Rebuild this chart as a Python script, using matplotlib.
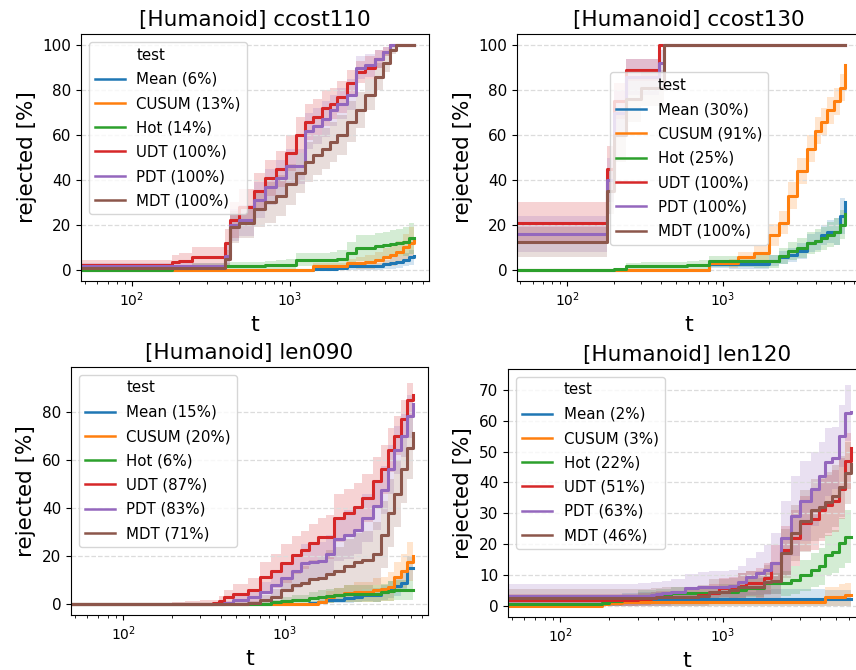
import numpy as np
import matplotlib.pyplot as plt
from matplotlib.lines import Line2D

# ------------------------------------
# Data
# ------------------------------------
t = [48, 180, 200, 240, 300, 360, 390, 420, 480, 590, 700, 820, 950, 1100, 1250,
     1400, 1600, 1800, 2000, 2300, 2650, 3000, 3500, 3900, 4300, 4700, 5200, 5700, 6150]

tests = ["Mean", "CUSUM", "Hot", "UDT", "PDT", "MDT"]
colors = ["tab:blue", "tab:orange", "tab:green", "tab:red", "tab:purple", "tab:brown"]

# final rejection rates shown in the legends
ccost110_pct = [6, 13, 14, 100, 100, 100]
ccost130_pct = [30, 91, 25, 100, 100, 100]
len090_pct = [15, 20, 6, 87, 83, 71]
len120_pct = [2, 3, 22, 51, 63, 46]

# rejected [%] per test (rows in the order of `tests`)
ccost110_rej = [
    [0]*15 + [0.5, 0.5, 0.5, 1, 1.5, 1.5, 1.5, 1.5, 2.5, 3, 3.5, 4.5, 5.5, 6],
    [0]*15 + [1.5, 1.5, 1.5, 1.5, 3, 3, 3.5, 4.5, 5.5, 6.5, 8, 10, 12, 13],
    [0, 1, 1, 1.5, 1.5, 1.5, 1.5, 1.5, 1.5, 1.5, 2, 2, 2.2, 4.5, 4.5, 4.5, 4.5, 4.5, 5,
     7.4, 9.7, 9.7, 10.5, 11, 11.5, 12, 12.5, 14, 14],
    [2, 3.5, 4, 5.5, 5.5, 5.5, 12, 22, 28, 35, 41, 45, 52, 60, 66, 68, 72, 74, 77, 83,
     88, 90, 94, 97, 100, 100, 100, 100, 100],
    [1.5, 1.5, 1.5, 1.5, 1.5, 1.5, 6, 20, 22, 31, 37, 41, 46, 46, 62, 64, 67, 71, 74, 78,
     90, 91, 94, 97, 100, 100, 100, 100, 100],
    [1, 1, 1, 1, 1, 1, 5, 19, 21, 27, 30, 33, 38, 43, 48, 51, 54, 57, 60, 66, 71, 78, 86,
     92, 98, 100, 100, 100, 100],
]
# half width of the shaded band
ccost110_ci = [
    [0]*15 + [0.8, 0.8, 0.8, 1, 1.5, 1.5, 1.5, 1.5, 2, 2.5, 2.5, 3, 3.5, 4],
    [0]*15 + [1.5, 1.5, 1.5, 1.5, 2, 2.5, 3, 3.5, 4, 5, 5, 6, 7, 8],
    [0, 1, 1, 1.5, 1.5, 1.5, 1.5, 2, 2, 2, 2, 2.5, 2.5, 3, 3, 3, 3, 3.5, 4, 5, 6, 6, 6,
     6, 6, 6, 6.5, 7, 7],
    [2.5, 3, 3.5, 4.5, 4.5, 4.5, 6, 8, 8, 8, 8, 8, 8, 8, 8, 8, 8, 7, 7, 6, 5, 5, 4, 2,
     0, 0, 0, 0, 0],
    [1.5, 1.5, 1.5, 1.5, 1.5, 1.5, 5, 7, 7, 8, 8, 8, 8, 8, 8, 8, 8, 7, 7, 7, 5, 5, 4, 2,
     0, 0, 0, 0, 0],
    [1, 1, 1, 1, 1, 1, 4, 7, 7, 8, 9, 9, 9, 9, 9, 9, 9, 9, 9, 9, 8, 7, 6, 4, 2, 0, 0, 0, 0],
]

ccost130_rej = [
    [0]*11 + [2.5, 2.5, 2.5, 2.5, 2.5, 2.5, 2.5, 4, 5.5, 6.5, 8.5, 12, 13, 15.6, 17, 17, 24, 30],
    [0]*11 + [3, 3, 3, 5.5, 5.5, 7.4, 7.4, 15.6, 21, 33, 44, 54, 62, 66, 71, 75, 81, 91],
    [0, 0, 0.5, 1.5, 1.5, 1.5, 1.5, 1.5, 1.5, 2, 2.2, 3.7, 3.7, 3.7, 3.7, 3.7, 3.7, 3.7,
     3.7, 6, 8.2, 9.7, 11.9, 13, 14, 15.6, 17, 20, 25],
    [21, 45, 75, 89, 89, 89] + [100]*23,
    [16, 40, 70, 86, 86, 86, 92] + [100]*22,
    [12.4, 35, 60, 76, 81, 81, 81] + [100]*22,
]
ccost130_ci = [
    [0]*11 + [1.5, 1.5, 2, 2, 2, 2, 2, 2.5, 3, 3, 3.5, 4, 4, 4.5, 5, 6, 8, 9],
    [0]*11 + [1.5, 1.5, 2, 2.5, 2.5, 3, 3, 5, 5, 6, 6, 6, 6, 6, 6, 6, 6, 5],
    [0, 0, 0.5, 1.5, 2, 2, 2, 2, 2, 2, 2, 2.5, 2.5, 2.5, 2.5, 2.5, 3, 3, 3, 3.5, 4, 4.5,
     5, 5, 5, 5.5, 6, 6.5, 7],
    [9, 10, 8, 5, 5, 5] + [0]*23,
    [8, 10, 10, 8, 8, 8, 6] + [0]*22,
    [6.5, 10, 12, 10, 8, 8, 8] + [0]*22,
]

len090_rej = [
    [0]*15 + [0.5, 1, 2, 2, 2.5, 3, 3.9, 4, 5, 6, 7.5, 9, 15, 15],
    [0]*16 + [1, 3.2, 3.9, 4.6, 5.2, 5.2, 6, 6.5, 7.3, 11.5, 14, 17.7, 20],
    [0]*10 + [0.3, 0.8, 1.5, 1.8, 1.8, 2.5, 3, 3.5, 4, 4.5, 4.5, 4.5, 4.5, 5, 5.5, 6, 6, 6, 6],
    [0, 0, 0, 0, 0, 0.5, 1.5, 3, 4.5, 6, 11.5, 14, 17, 20.5, 22.5, 25.3, 28, 28, 36, 38,
     40.5, 44, 51, 56, 64, 70, 77, 85, 87],
    [0, 0, 0, 0, 0, 0, 0, 0.5, 2, 3.2, 5.2, 8, 11, 14, 17, 17.5, 18, 21, 27, 29, 31, 36,
     41, 47.5, 56, 64, 70, 78, 83],
    [0, 0, 0, 0, 0, 0, 0, 0, 0, 0.5, 2, 3.2, 6, 8, 9, 10.5, 11, 12.5, 14, 16, 17.5, 18.3,
     21, 29, 38, 46, 56, 65, 71],
]
len090_ci = [
    [0]*15 + [0.8, 1, 1.5, 1.5, 2, 2, 2.5, 3, 3, 3.5, 4, 4, 5, 5],
    [0]*16 + [1, 2.5, 3, 3.5, 4, 4, 5, 5, 6, 6, 7, 8, 9],
    [0]*10 + [0.5, 1, 1.5, 2, 2, 2.5, 3, 3, 3, 3.5, 3.5, 3.5, 3.5, 3.5, 4, 4, 4, 4, 4],
    [0, 0, 1, 1.5, 2, 1.5, 2, 3, 4, 5, 6, 7, 8, 8, 8, 8, 8, 9, 10, 10, 10, 10, 10, 10,
     9, 8, 8, 7, 7],
    [0, 0, 0, 0, 0, 0, 0, 1, 2, 3, 4, 5, 6, 7, 8, 8, 8, 8, 9, 10, 10, 10, 10, 10, 10, 10,
     9, 9, 8],
    [0, 0, 0, 0, 0, 0, 0, 0, 0, 1, 2, 3, 4, 6, 7, 8, 9, 10, 10, 11, 12, 12, 13, 14, 14,
     14, 14, 13, 12],
]

len120_rej = [
    [0.5, 1, 1.2, 1.5] + [2]*25,
    [0, 0.5, 1] + [1.3]*21 + [2.9, 2.9, 2.9, 3.4, 3.4],
    [0.4, 1, 1.5, 2, 3, 3, 3.5, 3.5, 4, 4, 4, 4, 4.5, 4.5, 5, 5.8, 5.8, 7.2, 7.2, 7.2,
     8.3, 9.9, 11.6, 12.7, 16.5, 17.5, 20.3, 22.4, 22.4],
    [1.8, 1.8, 1.8, 1.8, 2.2, 2.5, 2.7, 2.9, 2.9, 2.9, 3.5, 4, 5.8, 5.8, 6.5, 7.2, 7.2,
     8.8, 13.7, 18, 22, 26.7, 28, 31, 32.5, 34, 38, 47, 51],
    [3, 3, 3, 3, 3.2, 3.5, 3.8, 4, 4.5, 5.8, 6, 6.2, 6.2, 6.5, 7.7, 9.4, 10.5, 11.6, 13.7,
     22, 29, 34, 38, 42, 46.5, 48, 55, 62.5, 63],
    [2.4, 2.4, 2.4, 2.4, 2.5, 2.6, 2.8, 2.9, 2.9, 2.9, 3.2, 4.5, 4.5, 5, 6.2, 6.2, 6.2,
     7.7, 8, 17, 23.5, 27.5, 31, 32, 33.5, 35.5, 38.6, 43, 46],
]
len120_ci = [
    [1, 1.5, 2] + [2.5]*13 + [3, 3] + [3.5]*6 + [3]*5,
    [0, 0.5, 1] + [1.3]*21 + [3, 3, 4, 4, 4],
    [0.5, 1, 1.5, 1.5, 2, 2, 2, 2, 2, 2, 2, 2, 2.5, 2.5, 2.5, 3, 3, 3.5, 3.5, 4, 4.5, 5,
     5.5, 6, 6.5, 7, 8, 8.5, 8.5],
    [2, 2, 2, 2, 2, 2, 2, 2, 2, 2.5, 3, 3, 3, 3.5, 4, 4, 5, 5, 6, 8, 9, 9, 10, 10, 10,
     10, 10, 9, 8],
    [4, 4, 4, 4, 4, 4, 4, 4, 4, 4.5, 5, 5, 5, 5, 5, 6, 7, 8, 10, 12, 13, 13, 12, 11, 11,
     10, 10, 9, 9],
    [3]*10 + [3.5, 4, 4, 4, 4.5, 5, 5, 5.5, 6, 8, 9, 10, 10, 10, 10, 10, 10, 10, 10],
]

# ------------------------------------
# Figure Setup (axes placed to match the screenshot, right column is cut off)
# ------------------------------------
W, H = 856, 670
fig = plt.figure(figsize=(W / 100, H / 100), dpi=100)


def px_axes(left, top, right, bottom):
    return fig.add_axes([left / W, 1 - bottom / H, (right - left) / W, (bottom - top) / H])


panels = [
    (px_axes(81, 34, 429, 281), "ccost110", ccost110_rej, ccost110_ci, ccost110_pct,
     (-5, 105), np.arange(0, 101, 20), dict(loc="upper left")),
    (px_axes(517, 34, 860, 281), "ccost130", ccost130_rej, ccost130_ci, ccost130_pct,
     (-5, 105), np.arange(0, 101, 20),
     dict(loc="upper left", bbox_to_anchor=(0.271, 0.846), borderaxespad=0)),
    (px_axes(71, 367, 428, 615), "len090", len090_rej, len090_ci, len090_pct,
     (-4.4, 98.5), np.arange(0, 81, 20), dict(loc="upper left")),
    (px_axes(508, 369, 866, 617), "len120", len120_rej, len120_ci, len120_pct,
     (-3.7, 76.8), np.arange(0, 71, 10), dict(loc="upper left")),
]

# ------------------------------------
# Step curves with confidence bands
# ------------------------------------
for ax, name, rej, ci, pct, ylim, yticks, leg_kw in panels:
    for k, color in enumerate(colors):
        m = np.array(rej[k], dtype=float)
        s = np.array(ci[k], dtype=float)
        lo = np.clip(m - s, 0, 100)
        hi = np.clip(m + s, 0, 100)
        ax.fill_between(t, lo, hi, step="post", color=color, alpha=0.2, linewidth=0)
        ax.step(t, m, where="post", color=color, linewidth=2.2)

    ax.set_xscale("log")
    ax.set_xlim(47.5, 7650)
    ax.set_ylim(*ylim)
    ax.set_yticks(yticks)
    ax.yaxis.grid(True, linestyle="--", color="#dcdcdc", linewidth=0.9)
    ax.tick_params(axis="y", labelsize=11)
    ax.tick_params(axis="x", labelsize=10)
    ax.set_title(f"[Humanoid] {name}", fontsize=15.5)
    ax.set_xlabel("t", fontsize=16)
    ax.set_ylabel("rejected [%]", fontsize=15.5)

    # seaborn-style legend: "test" as a first entry without a handle
    handles = [Line2D([], [], color="none", label="test")]
    for test, color, p in zip(tests, colors, pct):
        handles.append(Line2D([], [], color=color, linewidth=1.8, label=f"{test} ({p}%)"))
    ax.legend(handles=handles, fontsize=10.8, framealpha=0.8, labelspacing=0.62, **leg_kw)

fig.savefig("out.png", dpi=100)
